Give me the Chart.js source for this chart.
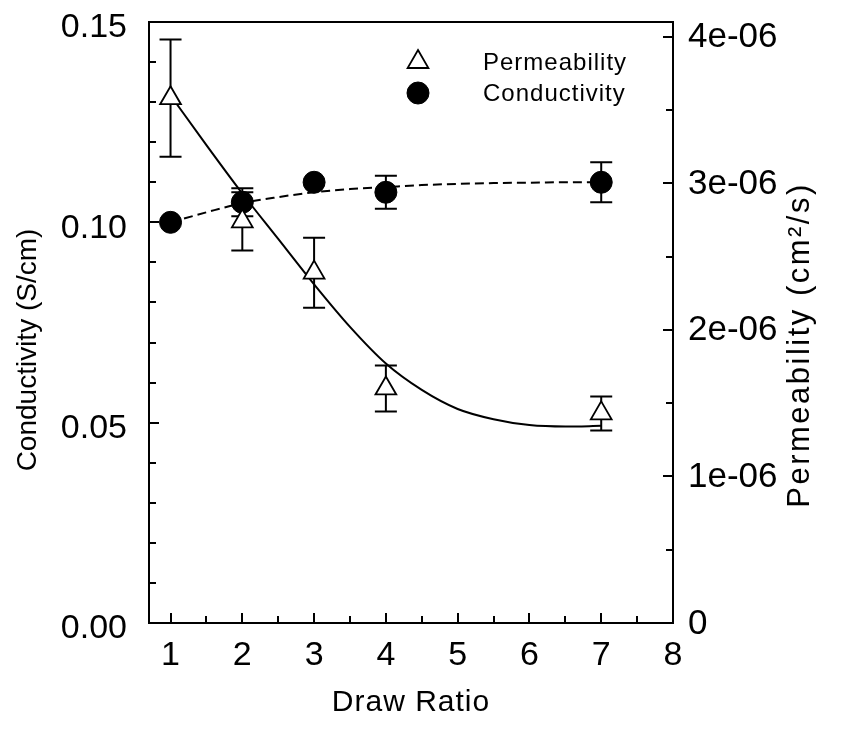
<!DOCTYPE html>
<html><head><meta charset="utf-8">
<script src="https://cdn.jsdelivr.net/npm/chart.js@4.4.0/dist/chart.umd.min.js"></script>
<style>html,body{margin:0;padding:0;background:#fff;}canvas{display:block;}</style>
</head><body>
<canvas id="c" width="851" height="742"></canvas>
<script>
// ---- data ----
const drawRatio = [1, 2, 3, 4, 7];
const permeability = [3.58e-6, 2.74e-6, 2.39e-6, 1.60e-6, 1.43e-6];
const permeabilityErr = [0.40e-6, 0.198e-6, 0.239e-6, 0.157e-6, 0.116e-6];
const conductivity = [0.100, 0.105, 0.110, 0.1075, 0.110];
const conductivityErr = [0, 0.0035, 0, 0.0041, 0.005];
const fitX = [1, 1.5, 2, 2.5, 3, 3.5, 4, 4.5, 5, 5.5, 6, 6.5, 7];
const permeabilityFit = [3.60e-6, 3.26e-6, 2.93e-6, 2.62e-6, 2.31e-6, 2.02e-6, 1.77e-6, 1.59e-6, 1.46e-6, 1.39e-6, 1.35e-6, 1.34e-6, 1.345e-6];
const conductivityFit = [0.1000, 0.1025, 0.1048, 0.1063, 0.1075, 0.1083, 0.1088, 0.1093, 0.1096, 0.1098, 0.1099, 0.1100, 0.1100];
// ---- ticks ----
const xTicks = [1, 2, 3, 4, 5, 6, 7, 8];
const xMinorTicks = [1.5, 2.5, 3.5, 4.5, 5.5, 6.5, 7.5];
const yTicks = [0, 0.05, 0.10, 0.15];
const yTickLabels = ['0.00', '0.05', '0.10', '0.15'];
const yMinorTicks = [0.01, 0.02, 0.03, 0.04, 0.06, 0.07, 0.08, 0.09, 0.11, 0.12, 0.13, 0.14];
const y2Ticks = [0, 1e-6, 2e-6, 3e-6, 4e-6];
const y2TickLabels = ['0', '1e-06', '2e-06', '3e-06', '4e-06'];
const y2MinorTicks = [0.5e-6, 1.5e-6, 2.5e-6, 3.5e-6];
const xTitle = 'Draw Ratio';
const yTitle = 'Conductivity (S/cm)';
const y2Title = 'Permeability (cm\u00B2/s)';
const legendLabels = ['Permeability', 'Conductivity'];

const FONT = '"Liberation Sans", Arial, Helvetica, sans-serif';

const errorBars = {
  id: 'errorBars',
  beforeDatasetsDraw(chart) {
    const ctx = chart.ctx, xs = chart.scales.x;
    const sets = [
      { s: chart.scales.y, v: conductivity, e: conductivityErr },
      { s: chart.scales.y2, v: permeability, e: permeabilityErr }
    ];
    ctx.save();
    ctx.strokeStyle = '#000';
    ctx.lineWidth = 2;
    ctx.beginPath();
    sets.forEach(o => {
      drawRatio.forEach((d, i) => {
        if (!o.e[i]) return;
        const px = xs.getPixelForValue(d);
        const t = o.s.getPixelForValue(o.v[i] + o.e[i]);
        const b = o.s.getPixelForValue(o.v[i] - o.e[i]);
        ctx.moveTo(px, t); ctx.lineTo(px, b);
        ctx.moveTo(px - 11, t); ctx.lineTo(px + 11, t);
        ctx.moveTo(px - 11, b); ctx.lineTo(px + 11, b);
      });
    });
    ctx.stroke();
    ctx.restore();
  }
};

const innerTicks = {
  id: 'innerTicks',
  afterDraw(chart) {
    const { ctx, chartArea: a, scales: { x, y, y2 } } = chart;
    ctx.save();
    ctx.strokeStyle = '#000';
    ctx.lineWidth = 2;
    ctx.beginPath();
    const bx = (vals, len) => vals.forEach(v => { const p = Math.round(x.getPixelForValue(v)); ctx.moveTo(p, a.bottom); ctx.lineTo(p, a.bottom - len); });
    const ly = (vals, len) => vals.forEach(v => { const p = Math.round(y.getPixelForValue(v)); ctx.moveTo(a.left, p); ctx.lineTo(a.left + len, p); });
    const ry = (vals, len) => vals.forEach(v => { const p = Math.round(y2.getPixelForValue(v)); ctx.moveTo(a.right, p); ctx.lineTo(a.right - len, p); });
    bx(xTicks, 10); bx(xMinorTicks, 7);
    ly(yTicks, 10); ly(yMinorTicks, 7);
    ry(y2Ticks, 10); ry(y2MinorTicks, 7);
    ctx.moveTo(a.left - 1, a.top); ctx.lineTo(a.right + 1, a.top);
    ctx.stroke();
    ctx.restore();
  }
};

const titles = {
  id: 'titles',
  afterDraw(chart) {
    const { ctx, chartArea: a } = chart;
    const txt = (s, px, py, size, rot, ls) => {
      ctx.save();
      ctx.translate(px, py);
      ctx.rotate(rot);
      ctx.font = size + 'px ' + FONT;
      ctx.fillStyle = '#000';
      ctx.textAlign = 'center';
      ctx.textBaseline = 'middle';
      try { ctx.letterSpacing = ls + 'px'; } catch (e) {}
      ctx.fillText(s, 0, 0);
      ctx.restore();
    };
    txt(xTitle, (a.left + a.right) / 2, a.bottom + 80, 30, 0, 1);
    txt(yTitle, 28, a.top + 328, 28, -Math.PI / 2, 0);
    txt(y2Title, 800, a.top + 323, 31, -Math.PI / 2, 2.5);
  }
};

const legendBox = {
  id: 'legendBox',
  afterDraw(chart) {
    const { ctx, chartArea: a } = chart;
    const mx = a.left + 269, tx = a.left + 334;
    const rows = [a.top + 40, a.top + 71];
    [0, 1].forEach(k => {
      const d = chart.data.datasets[k];
      ctx.save();
      ctx.fillStyle = d.backgroundColor;
      ctx.strokeStyle = d.borderColor;
      ctx.lineWidth = d.borderWidth;
      Chart.helpers.drawPoint(ctx, { pointStyle: d.pointStyle, radius: d.pointRadius, borderWidth: d.borderWidth, rotation: 0 }, mx, rows[k]);
      ctx.restore();
      ctx.save();
      ctx.font = '24px ' + FONT;
      ctx.fillStyle = '#000';
      ctx.textAlign = 'left';
      ctx.textBaseline = 'middle';
      try { ctx.letterSpacing = '1px'; } catch (e) {}
      ctx.fillText(legendLabels[k], tx, rows[k] + 1);
      ctx.restore();
    });
  }
};

const noScalePad = s => { s.paddingTop = 0; s.paddingBottom = 0; };

new Chart(document.getElementById('c'), {
  type: 'scatter',
  data: {
    datasets: [
      {
        label: legendLabels[0], yAxisID: 'y2',
        data: drawRatio.map((d, i) => ({ x: d, y: permeability[i] })),
        pointStyle: 'triangle', pointRadius: 12, backgroundColor: '#fff', borderColor: '#000', borderWidth: 1.8, showLine: false
      },
      {
        label: legendLabels[1], yAxisID: 'y',
        data: drawRatio.map((d, i) => ({ x: d, y: conductivity[i] })),
        pointStyle: 'circle', pointRadius: 11, backgroundColor: '#000', borderColor: '#000', borderWidth: 1, showLine: false
      },
      {
        label: 'Permeability fit', yAxisID: 'y2',
        data: fitX.map((d, i) => ({ x: d, y: permeabilityFit[i] })),
        showLine: true, pointRadius: 0, borderColor: '#000', borderWidth: 2, cubicInterpolationMode: 'monotone', fill: false
      },
      {
        label: 'Conductivity fit', yAxisID: 'y',
        data: fitX.map((d, i) => ({ x: d, y: conductivityFit[i] })),
        showLine: true, pointRadius: 0, borderColor: '#000', borderWidth: 2, borderDash: [9, 5], cubicInterpolationMode: 'monotone', fill: false
      }
    ]
  },
  options: {
    responsive: false,
    animation: false,
    devicePixelRatio: 1,
    layout: { padding: { top: 22, left: 0, right: 0, bottom: 0 } },
    plugins: { legend: { display: false }, tooltip: { enabled: false } },
    scales: {
      x: {
        type: 'linear', min: 0.7, max: 8,
        afterBuildTicks: s => { s.ticks = xTicks.map(v => ({ value: v })); },
        afterFit: s => { s.height = 119; s.paddingLeft = 0; s.paddingRight = 0; },
        grid: { display: false, drawTicks: false },
        border: { display: true, color: '#000', width: 2 },
        ticks: { autoSkip: false, maxRotation: 0, padding: 12, color: '#000', font: { size: 34, family: FONT }, callback: v => String(v) }
      },
      y: {
        type: 'linear', position: 'left', min: 0, max: 0.15,
        afterBuildTicks: s => { s.ticks = yTicks.map(v => ({ value: v })); },
        afterFit: s => { s.width = 149; noScalePad(s); },
        grid: { display: false, drawTicks: false },
        border: { display: true, color: '#000', width: 2 },
        ticks: { autoSkip: false, padding: 22, labelOffset: 6, color: '#000', font: { size: 34, family: FONT }, callback: (v, i) => yTickLabels[i] }
      },
      y2: {
        type: 'linear', position: 'right', min: 0, max: 4.1e-6,
        afterBuildTicks: s => { s.ticks = y2Ticks.map(v => ({ value: v })); },
        afterFit: s => { s.width = 178; noScalePad(s); },
        grid: { display: false, drawTicks: false },
        border: { display: true, color: '#000', width: 2 },
        ticks: { autoSkip: false, padding: 15, labelOffset: 1, color: '#000', font: { size: 35, family: FONT }, callback: (v, i) => y2TickLabels[i] }
      }
    }
  },
  plugins: [errorBars, innerTicks, titles, legendBox]
});
</script>
</body></html>
